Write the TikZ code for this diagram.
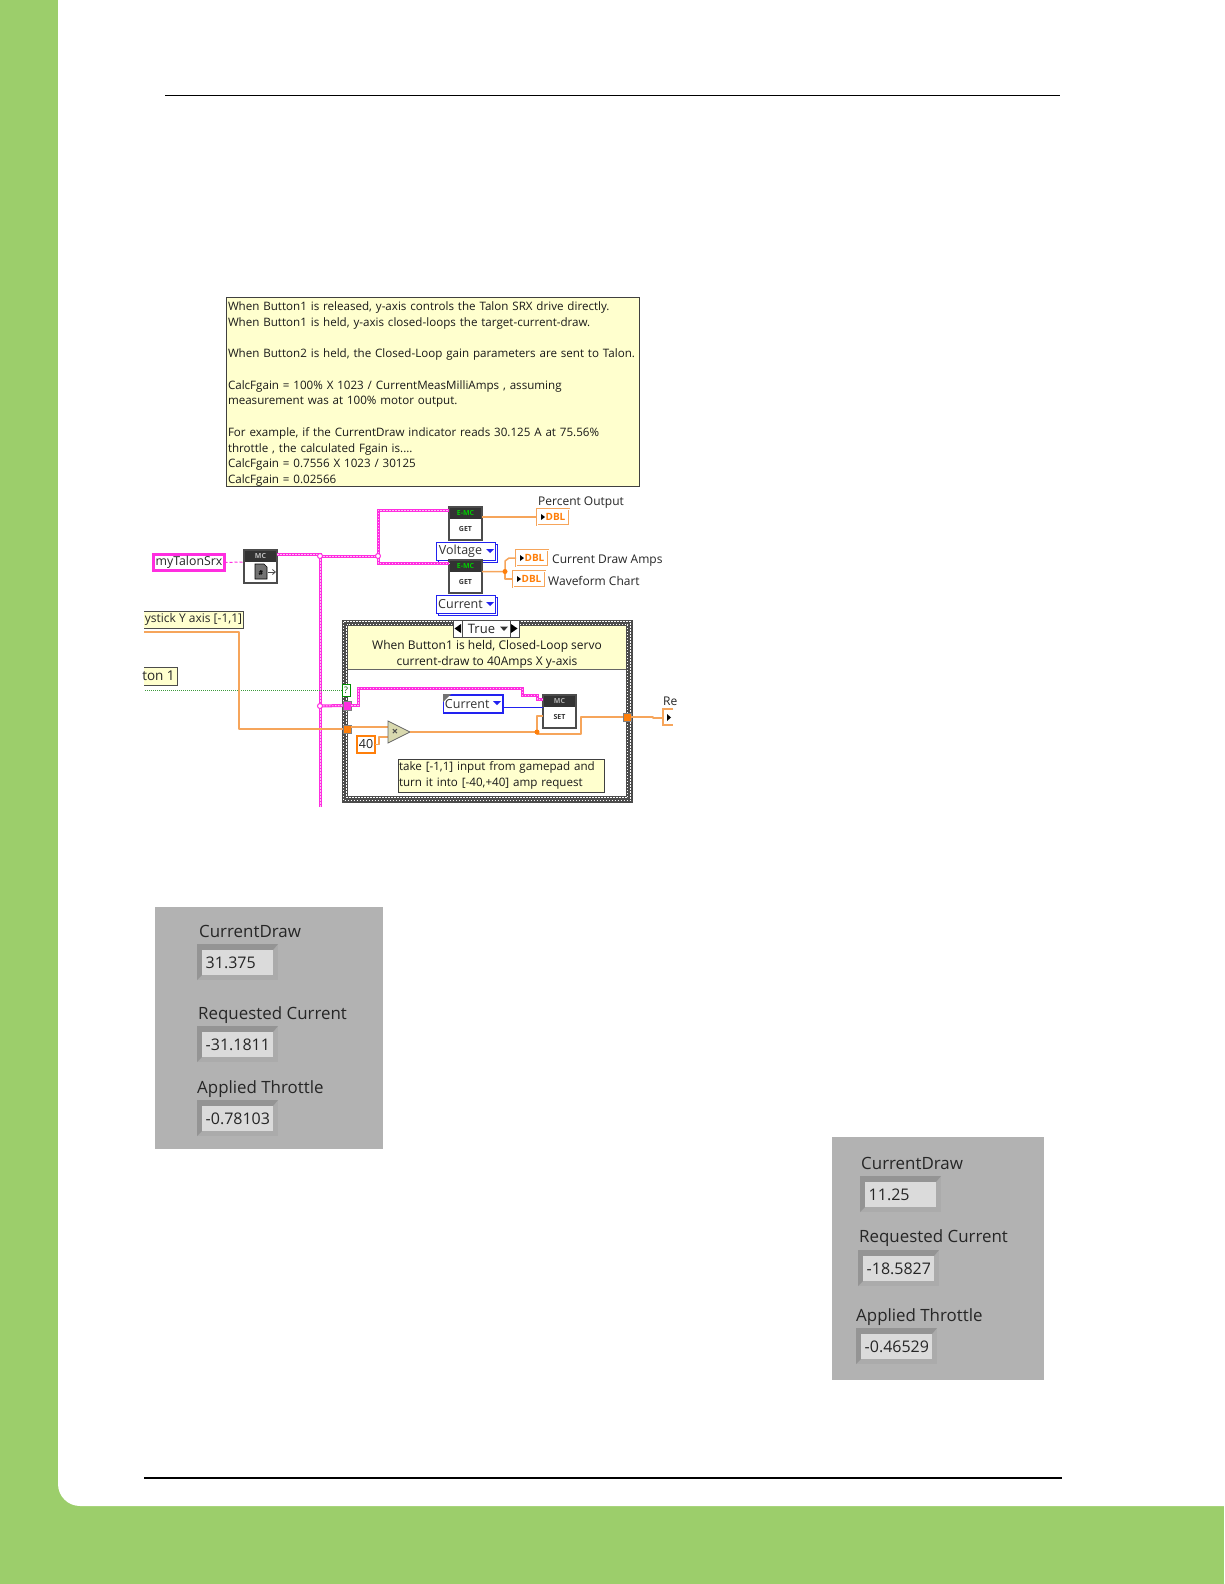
\documentclass[tikz,border=0pt]{standalone}
\usepackage{fontspec}
\usetikzlibrary{arrows.meta}
\setmainfont{Open Sans}
\definecolor{pagegreen}{HTML}{9CCE6B}
\definecolor{wiremag}{HTML}{FF2EE0}
\definecolor{wiredot}{HTML}{FFC0F5}
\definecolor{wireor}{HTML}{F6A55B}
\definecolor{tunor}{HTML}{FF7F0A}
\definecolor{noteyel}{HTML}{FFFFCE}
\definecolor{panelgray}{HTML}{B2B2B2}
\definecolor{enumblue}{HTML}{2222F0}
\definecolor{hdr}{HTML}{333333}
\definecolor{wiregr}{HTML}{3C9A3C}
\newcommand\fnote{\fontsize{11.6}{15.72}\selectfont}
\newcommand\fpanel{\fontsize{16.9}{20}\selectfont}
\newcommand\fval{\fontsize{16}{20}\selectfont}
\newcommand\bx[7][]{\node[rectangle,inner sep=0pt,outer sep=0pt,anchor=north west,minimum width={(#5-#3)*1pt},minimum height={(#6-#4)*1pt},#1] (#2) at (#3,#4) {#7};}
\newcommand\icon[6]{% name x y headertext headercolor bodytext
  \bx[vinode]{#1}{#2}{#3}{#2+33}{#3+33}{}
  \fill[hdr] (#1.north west) rectangle ([yshift=-12pt]#1.north east);
  \node[inner sep=0pt,text=#5,font=\bfseries\fontsize{7}{8}\selectfont] (#1h) at ([yshift=-6pt]#1.north) {#4};
  \node[inner sep=0pt,font=\bfseries\fontsize{7}{8}\selectfont,text=black!80] (#1b) at ([yshift=-22pt]#1.north) {#6};
  \draw[draw=black!70,line width=1.2pt] (#1.north west) rectangle (#1.south east);}
\newcommand\dblbox[3]{% name x y
  \bx[dblnode]{#1}{#2}{#3}{#2+32}{#3+16}{\hspace*{5pt}DBL}
  \fill[black] ([xshift=4pt,yshift=3pt]#1.west) -- ([xshift=4pt,yshift=-3pt]#1.west) -- ([xshift=8pt]#1.west) -- cycle;}
\newcommand\fld[4]{% name x y text
  \fill[black!33] (#2,#3) rectangle ({#2+81},{#3+36});
  \fill[black!42] (#2,#3) -- ({#2+81},#3) -- ({#2+76},{#3+6}) -- ({#2+5},{#3+6}) -- ({#2+5},{#3+31}) -- (#2,{#3+36}) -- cycle;
  \fill[black!14] ({#2+5},{#3+6}) rectangle ({#2+76},{#3+31});
  \begin{scope}
    \clip ({#2+5},{#3+6}) rectangle ({#2+71.5},{#3+31});
    \node[anchor=west,inner sep=0pt,font=\fval,text=black!85] (#1) at ({#2+8.5},{#3+18.5}) {#4};
  \end{scope}}
\tikzset{
  vinode/.style={fill=white},
  dblnode/.style={draw=wireor,line width=.9pt,double=white,double distance=.7pt,font=\bfseries\fontsize{10}{10}\selectfont,text=tunor},
  notebox/.style={fill=noteyel,draw=black!75,line width=1pt,font=\fnote,text=black!90},
  enumbox/.style={draw=enumblue,fill=white,font=\fontsize{12.5}{14}\selectfont,text=black!80},
  tunnel/.style={fill=tunor,draw=black!50,line width=.6pt},
  wiremagenta/.style={draw=wiremag,line width=3pt,line join=miter,postaction={draw=wiredot,line width=.9pt,dash pattern=on 1.5pt off 1.5pt}},
  wirethinmag/.style={draw=wiremag,line width=1pt,densely dashed},
  wireorange/.style={draw=wireor,line width=1.5pt,line join=round},
  wiregreen/.style={draw=wiregr,line width=1pt,densely dotted},
  wireblue/.style={draw=enumblue,line width=1pt},
  jun/.style={circle,fill=tunor,inner sep=0pt,minimum size=5pt},
  labeltext/.style={inner sep=0pt,anchor=west,font=\fontsize{12}{14}\selectfont,text=black!85},
  paneltext/.style={inner sep=0pt,anchor=west,font=\fpanel,text=black!85},
}
\begin{document}
\begin{tikzpicture}[x=1pt,y=-1pt]
\useasboundingbox (0,0) rectangle (1224,1584);
% page frame
\fill[pagegreen] (0,0) rectangle (1224,1584);
\fill[white] (58,0) -- (58,1484) arc[start angle=180,end angle=270,radius=22pt] -- (1224,1506) -- (1224,0) -- cycle;
\coordinate (ruleAl) at (165,96); \coordinate (ruleAr) at (1060,96);
\coordinate (ruleBl) at (144,1478); \coordinate (ruleBr) at (1062,1478);
\draw[black,line width=1pt] (ruleAl) -- (ruleAr);
\draw[black,line width=2pt] (ruleBl) -- (ruleBr);
% top note
\bx[notebox]{note}{226.5}{297}{639.5}{486}{}
\node[inner sep=0pt,align=left,text width=410pt,font=\fnote,text=black!90] (noteTxt) at ([yshift=-2.5pt]note.center) {When Button1 is released, y-axis controls the Talon SRX drive directly.\\
When Button1 is held, y-axis closed-loops the target-current-draw.\\[15.72pt]
When Button2 is held, the Closed-Loop gain parameters are sent to Talon.\\[15.72pt]
CalcFgain = 100\% X 1023 / CurrentMeasMilliAmps , assuming\\
measurement was at 100\% motor output.\\[15.72pt]
For example, if the CurrentDraw indicator reads 30.125 A at 75.56\%\\
throttle , the calculated Fgain is....\\
CalcFgain = 0.7556 X 1023 / 30125\\
CalcFgain = 0.02566};
% case structure
\bx[fill=white]{caseS}{345}{623}{629}{799}{}
\draw[black!70,line width=6pt] (caseS.north west) rectangle (caseS.south east);
\draw[white,line width=1.5pt,dash pattern=on 1.5pt off 1.5pt] ([shift={(-1.5,-1.5)}]caseS.north west) rectangle ([shift={(1.5,1.5)}]caseS.south east);
\draw[white,line width=1.5pt,dash pattern=on 1.5pt off 1.5pt,dash phase=1.5pt] ([shift={(1.5,1.5)}]caseS.north west) rectangle ([shift={(-1.5,-1.5)}]caseS.south east);
\draw[black!70,line width=.6pt] (342,620) rectangle (632,802);
\bx[fill=noteyel]{caseNote}{348}{626}{626}{669}{}
\node[inner sep=0pt,align=center,font=\fontsize{12}{15.9}\selectfont,text=black!90] (caseTxt) at (487,654.5) {When Button1 is held, Closed-Loop servo\\current-draw to 40Amps X y-axis};
\draw[black!60,line width=1pt] (caseNote.south west) -- (caseNote.south east);
% selector
\bx[fill=white,draw=black!70,line width=.8pt,font=\fontsize{13}{14}\selectfont,text=black!85]{sel}{453}{620}{519}{637}{\hspace*{-9pt}True}
\draw[black!70,line width=.8pt] (462,620) -- (462,637) (510,620) -- (510,637);
\fill[black] (454.5,628.5) -- (461,624) -- (461,633) -- cycle;
\fill[black] (517.5,628.5) -- (511,624) -- (511,633) -- cycle;
\fill[black!80] (500,626.5) -- (508,626.5) -- (504,631) -- cycle;
% enums behind the icons
\bx[enumbox,line width=.8pt]{volt2}{438}{544}{497}{562}{}
\bx[enumbox,line width=.8pt]{volt}{436}{542}{495}{560}{\hspace*{-10pt}\raisebox{-1.5pt}{Voltage}}
\fill[enumblue] (486,549) -- (494,549) -- (490,553) -- cycle;
\bx[enumbox,line width=.8pt]{cur2}{438}{597}{497}{615}{}
\bx[enumbox,line width=.8pt]{cur}{436}{595}{495}{613}{\hspace*{-10pt}\raisebox{-1.5pt}{Current}}
\fill[enumblue] (486,602) -- (494,602) -- (490,606) -- cycle;
% magenta wires
\bx[draw=wiremag,fill=white,line width=3pt,font=\fontsize{12.3}{15}\selectfont,text=black!85]{talon}{153.5}{554.5}{224.5}{570.5}{myTalonSrx}
\icon{mcref}{244}{550}{MC}{black!25}{}
\icon{get1}{449}{507}{E-MC}{green!80!black}{GET}
\icon{get2}{449}{560}{E-MC}{green!80!black}{GET}
\icon{setn}{543}{695}{MC}{black!30}{SET}
\coordinate (j1) at (320,556); \coordinate (j2) at (378,556); \coordinate (j3) at (320,706);
\coordinate (vend) at (320,807);
\fill[black!55] (255,564) -- (264,564) -- (267,567) -- (267,579) -- (255,579) -- cycle;
\draw[black,line width=.7pt] (255,564) -- (264,564) -- (267,567) -- (267,579) -- (255,579) -- cycle;
\node[inner sep=0pt,font=\bfseries\fontsize{7}{8}\selectfont] (hashi) at (261,573) {\#};
\coordinate (arA) at (268,572); \coordinate (arB) at (276,572);
\draw[black!70,line width=.8pt,-{Straight Barb[length=3pt,width=5pt]}] (arA) -- (arB);
\draw[wirethinmag] (talon.east) -- (244,562);
\draw[wiremagenta] (j1) -- (vend);
\draw[wiremagenta] (277,554) -- (320,554) -- (j1) -- (j2);
\draw[wiremagenta] (j2) |- (449,510);
\draw[wiremagenta] (j2) |- (449,563.5);
\bx[tunnel,fill=wiremag]{tunM}{343}{701}{351}{710}{}
\bx[tunnel]{tunIn}{343}{725}{351}{733}{}
\bx[tunnel]{tunOut}{623}{713}{631}{721}{}
\draw[wiremagenta] (j3) -- (tunM.west);
\draw[wiremagenta] (tunM.east) -- (358,705.5) -- (358,688) -- (522,688) -- (522,695) -- (537,695) -- (537,699) -- (543,699);
\draw[wiremag,line width=1pt,fill=white] (j3) circle[radius=2.5pt];
\draw[wiremag,line width=1pt,fill=white] (j1) circle[radius=2.5pt];
\draw[wiremag,line width=1pt,fill=white] (j2) circle[radius=2.5pt];
% left controls (cropped at x=144)
\bx[fill=noteyel,font=\fontsize{12}{14}\selectfont,text=black!85]{joy}{144}{611}{243}{628}{\raisebox{-1.5pt}{ystick Y axis [-1,1]}}
\draw[black!70,line width=1pt] (joy.north west) -- (joy.north east) -- (joy.south east) -- (joy.south west);
\bx[fill=noteyel,font=\fontsize{13.5}{14}\selectfont,text=black!85]{btn}{144}{667}{177}{685}{\hspace*{-4pt}ton 1}
\draw[black!70,line width=1pt] (btn.north west) -- (btn.north east) -- (btn.south east) -- (btn.south west);
\bx[fill=white,draw=green!55!black,line width=.8pt,font=\fontsize{9}{10}\selectfont,text=green!40!black]{sele}{342}{684}{350}{696}{?}
\coordinate (gs) at (145,690); \coordinate (orS) at (144,632);
\draw[wiregreen] (gs) -- (sele.west);
\draw[wireorange] (orS) -- (239,632) -- (239,729) -- (tunIn.west);
% multiply
\coordinate (mA) at (388,721); \coordinate (mB) at (388,743); \coordinate (mC) at (410,732);
\draw[wireorange] (351,727) -- (388,727);
\bx[draw=tunor,fill=white,line width=1.6pt,font=\fontsize{12.5}{15}\selectfont,text=black!85]{forty}{357}{736}{375}{753}{40}
\draw[wireorange] (forty.east) -- (379,744.5) -- (379,737) -- (388,737);
\fill[noteyel!85!black] (mA) -- (mC) -- (mB) -- cycle;
\draw[black!60,line width=.8pt] (mA) -- (mC) -- (mB) -- cycle;
\node[inner sep=0pt,font=\bfseries\fontsize{11}{12}\selectfont,text=black!70] (mulb) at (395,732) {×};
\coordinate (j4) at (537,732);
\draw[wireorange] (mC) -- (j4) -- (537,716) -- (543,716);
\draw[wireorange] (j4) -- (537,734) -- (581,734) -- (581,717) -- (tunOut.west);
\node[jun] (j4d) at (j4) {};
% indicators
\dblbox{dbl1}{537}{509}
\dblbox{dbl2}{516}{550}
\dblbox{dbl3}{513}{571}
\draw[wireorange] ([yshift=6.5pt]get1.east) -- (dbl1.west);
\coordinate (j5) at (505,571.5);
\draw[wireorange] ([yshift=5pt]get2.east) -- (j5) -- (505,561) -- (509,558) -- (dbl2.west);
\draw[wireorange] (j5) -- (505,579) -- (dbl3.west);
\node[jun] (j5d) at (j5) {};
\node[labeltext] (pctL) at (538,503) {Percent Output};
\node[labeltext] (curL) at (552,560.5) {Current Draw Amps};
\node[labeltext] (wavL) at (548,581) {Waveform Chart};
% right indicator cropped at x=673
\coordinate (rA) at (673,709); \coordinate (rB) at (663,709); \coordinate (rC) at (663,725); \coordinate (rD) at (673,725);
\draw[wireor,line width=1.2pt] (rA) -- (rB) -- (rC) -- (rD);
\fill[black] (667,714) -- (667,721) -- (671,717.5) -- cycle;
\draw[wireorange] (tunOut.east) -- (653,717) -- (653,718) -- (663,718);
\node[labeltext,anchor=west] (reL) at (663,701) {Re};
% case enum
\bx[enumbox,line width=1.8pt]{curc}{443.5}{695}{503}{713}{\hspace*{-12pt}Current}
\fill[enumblue] (493,701) -- (501,701) -- (497,705) -- cycle;
\fill[black!55] (443,694) -- (451,694) -- (443,702) -- cycle;
\draw[wireblue] ([yshift=-3pt]curc.east) -- ([yshift=4.5pt]setn.west);
% in-case note
\bx[notebox,align=left,text width=204pt]{reqNote}{398}{759}{604}{792}{take [-1,1] input from gamepad and\\turn it into [-40,+40] amp request}
% panel 1
\bx[fill=panelgray]{panA}{155}{907}{383}{1149}{}
\node[paneltext] (a1) at (199,931) {CurrentDraw};
\fld{a1v}{197}{944}{31.375}
\node[paneltext] (a2) at (198,1015) {Requested Current};
\fld{a2v}{197}{1026}{-31.1811}
\node[paneltext] (a3) at (197,1089) {Applied Throttle};
\fld{a3v}{197}{1100}{-0.78103}
% panel 2
\bx[fill=panelgray]{panB}{832}{1137}{1044}{1380}{}
\node[paneltext] (b1) at (861,1163) {CurrentDraw};
\fld{b1v}{860}{1176}{11.25}
\node[paneltext] (b2) at (859,1238.5) {Requested Current};
\fld{b2v}{858}{1250}{-18.5827}
\node[paneltext] (b3) at (856,1317) {Applied Throttle};
\fld{b3v}{856}{1328}{-0.46529}
\end{tikzpicture}
\end{document}
